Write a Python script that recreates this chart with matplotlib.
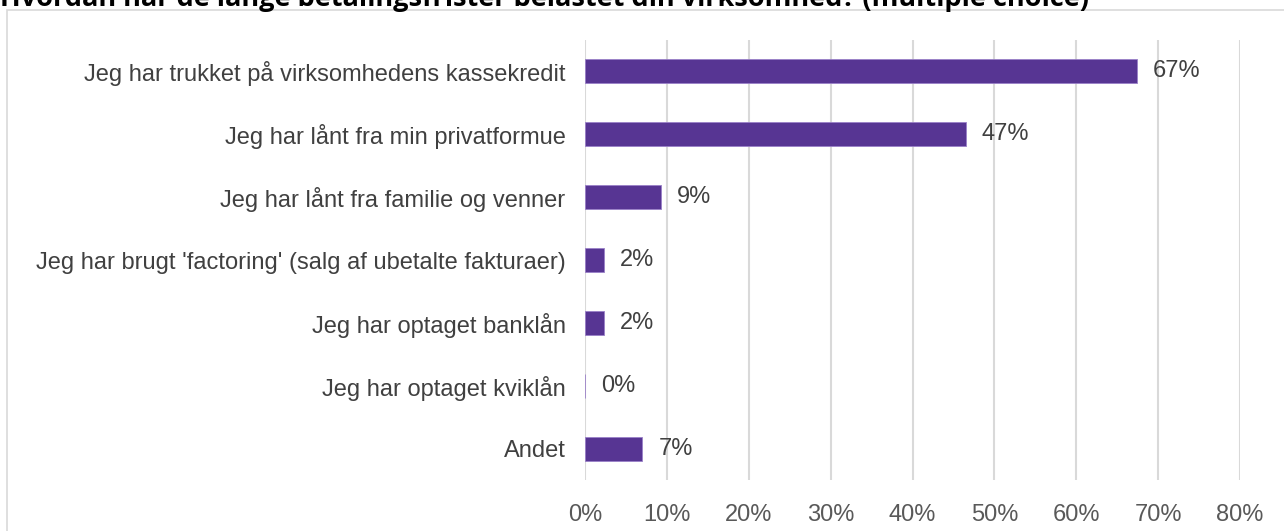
import matplotlib.pyplot as plt
import matplotlib.patches as patches
from matplotlib.ticker import PercentFormatter

categories = [
    "Jeg har trukket på virksomhedens kassekredit",
    "Jeg har lånt fra min privatformue",
    "Jeg har lånt fra familie og venner",
    "Jeg har brugt 'factoring' (salg af ubetalte fakturaer)",
    "Jeg har optaget banklån",
    "Jeg har optaget kviklån",
    "Andet",
]
values = [0.674, 0.465, 0.093, 0.023, 0.023, 0.0, 0.07]
labels = ["67%", "47%", "9%", "2%", "2%", "0%", "7%"]
xticks = [0, 0.1, 0.2, 0.3, 0.4, 0.5, 0.6, 0.7, 0.8]

plt.rcParams['font.family'] = ['Liberation Sans', 'DejaVu Sans']

fig = plt.figure(figsize=(12.84, 5.31), dpi=100)
ax = fig.add_axes([585 / 1284, 1 - 480 / 531, 655 / 1284, 440 / 531])

# outer chart border (top-left corner only visible)
fig.patches.append(patches.Rectangle((7 / 1284, -0.1), 1.1, 1 - 10 / 531 + 0.1,
                                     transform=fig.transFigure, fill=False,
                                     edgecolor='#d9d9d9', linewidth=1.2))

# title is cut by the top edge in the source image
fig.text(0, 1 - 6 / 531, "Hvordan har de lange betalingsfrister belastet din virksomhed? (multiple choice)",
         family=['Open Sans', 'DejaVu Sans'], fontweight='bold', fontsize=19.5,
         ha='left', va='baseline', color='black')

y = list(range(len(categories)))
bars = ax.barh(y, values, height=0.38, color='#573593', edgecolor='#9a80c8', linewidth=0.6, zorder=3)
ax.bar_label(bars, labels=labels, padding=11.5, fontsize=17, color='#404040')

ax.set_ylim(len(categories) - 0.5, -0.5)
ax.set_xlim(0, 0.8)
ax.set_yticks(y)
ax.set_yticklabels(categories, fontsize=17, color='#404040')
ax.set_xticks(xticks)
ax.xaxis.set_major_formatter(PercentFormatter(1.0, decimals=0))
ax.tick_params(axis='x', labelsize=17, labelcolor='#595959', length=0, pad=17)
ax.tick_params(axis='y', length=0, pad=14)
ax.grid(axis='x', color='#d9d9d9', linewidth=1.5, zorder=0)
for s in ax.spines.values():
    s.set_visible(False)

fig.savefig('out.png', dpi=100)
